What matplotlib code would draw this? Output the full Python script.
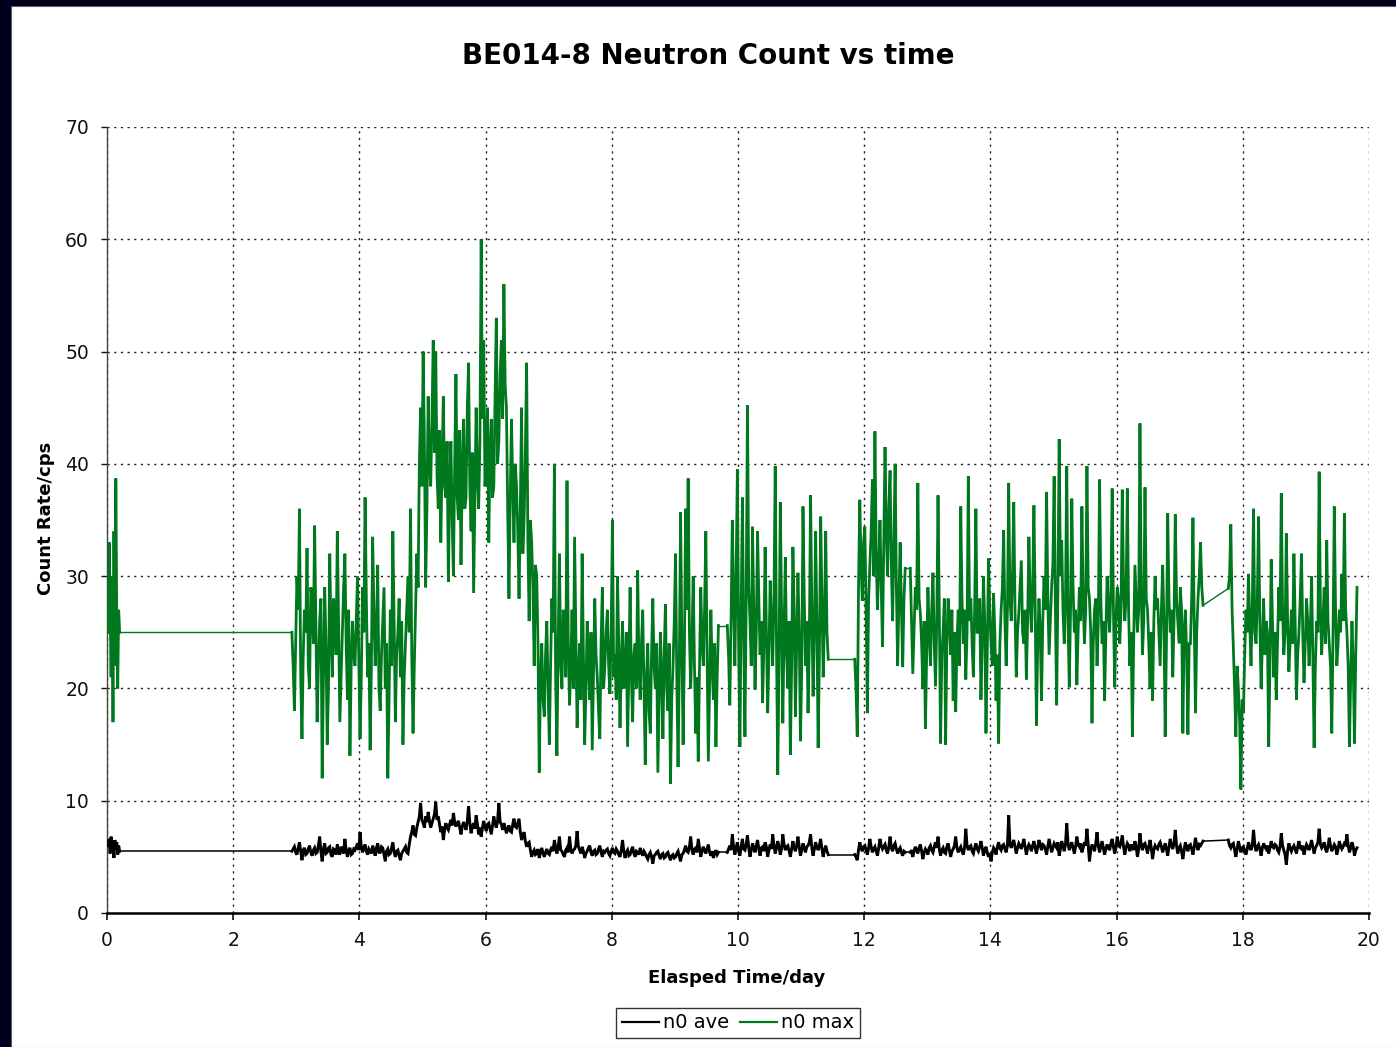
import numpy as np
import matplotlib
matplotlib.use("Agg")
import matplotlib.pyplot as plt
from matplotlib.patches import Rectangle

SEG_START = [0.02, 2.93, 9.83, 11.85, 12.73, 17.77]   # day
SEG_STEP = [0.015, 0.02, 0.02, 0.02, 0.02, 0.02]      # day

N0_MAX_1 = [25, 33, 27, 21, 30, 17, 34, 22, 38.7, 26, 20, 27, 25]
N0_MAX_2 = [
    25, 22, 18, 24, 30, 27, 36, 21, 15.5, 23, 27, 25, 32.5, 22, 20, 29, 28, 24, 34.5, 26, 17, 22, 26, 28, 12,
    21, 29, 24, 15, 20, 32, 25, 21, 28, 27, 23, 34, 26, 17, 21, 25, 29, 32, 24, 19, 27, 14, 22, 26, 23,
    22, 26, 30, 23, 15.5, 21, 29, 25, 37, 28, 21, 24, 14.5, 22, 33.5, 27, 22, 25, 31, 20, 18, 23, 26, 29, 20,
    24, 12, 19, 27, 22, 34, 26, 17, 23, 25, 28, 21, 26, 15, 21, 24, 27, 30, 25, 36, 23, 16, 22, 27, 32,
    29, 40, 45, 38, 50, 42, 29, 36, 46, 40, 38, 44, 51, 41, 50, 39, 36, 43, 33, 40, 46, 38, 37, 42, 29.5,
    38, 42, 35, 30, 40, 48, 37, 35, 43, 31, 39, 44, 36, 37, 45, 49, 38, 34, 41, 28.5, 37, 45, 39, 36, 42,
    60, 44, 51, 38, 40, 45, 33, 41, 44, 37, 38, 46, 53, 40, 42, 48, 51, 44, 56, 47, 45, 36, 28, 37, 44,
    38, 33, 40, 38, 34, 28, 36, 45, 32, 35, 41, 49, 33, 26, 35, 33, 29, 22, 31, 30, 24, 12.5, 21, 24, 19,
    17.5, 23, 26, 20, 15, 22, 28, 25, 40, 21, 14, 24, 32, 22, 20, 27, 25, 21, 38.5, 24, 18.5, 22, 27, 20, 33.5,
    25, 16.5, 21, 24, 19, 32, 23, 15, 20, 26, 22, 19, 25, 14.5, 21, 28, 23, 21, 18, 15.5, 24, 29, 20, 22, 25,
    27, 22, 19.5, 25, 35, 21, 23, 19, 30, 24, 16.5, 22, 26, 20, 21, 25, 14.8, 22, 29, 21, 17, 23, 24, 20, 30.5,
    22, 19, 24, 27, 20, 13.2, 21, 24, 18, 16, 23, 28, 22, 20, 24, 12.5, 19, 25, 21, 15.5, 23, 27.5, 20, 18, 24,
    11.5, 19, 22, 26, 32, 21, 13, 22, 35.7, 24, 15, 23, 36, 27, 38.7, 25, 20, 24, 30, 22,
    16, 21, 13.5, 22, 29, 24, 22, 27, 34, 23, 13.5, 20, 27, 22, 19, 24, 14.8, 21, 25.6]
N0_MAX_3 = [
    25.6, 23, 18.5, 26, 35, 28, 22, 30, 39.5, 24, 14.8, 27, 37, 25, 15.7, 28, 45.2, 29, 26, 22,
    34.4, 27, 19.9, 25, 34, 28, 23, 26, 18.7, 24, 32.6, 25, 17.8, 23, 29.6, 26, 22, 28, 39.8, 24,
    12.3, 22, 36.6, 27, 16.9, 25, 31.7, 23, 20, 26, 14.1, 22, 32.6, 27, 17.5, 24, 30.3, 25, 15.3, 22,
    36.2, 28, 22, 26, 17.8, 24, 37.2, 27, 19.3, 25, 34, 26, 14.7, 23, 35.3, 28, 21, 26, 34, 25, 22.6]
N0_MAX_4 = [
    22.6, 20, 15.7, 29, 36.8, 31, 27.8, 33, 34.4, 27, 17.8, 28, 31, 34, 38.6, 30, 42.9, 32, 27, 31,
    35, 29, 23.7, 33, 41.5, 34, 30, 36, 39.4, 31, 26, 33, 40, 29, 22, 28, 33, 27, 21.9, 28, 30.7]
N0_MAX_5 = [
    30.7, 26, 21.3, 25, 29, 27, 38.3, 28, 26.7, 24, 20, 26, 16.4, 23, 29, 25, 22, 27, 30.3, 24, 20.2, 26, 37.2, 27, 15.1,
    23, 25, 28, 15, 24, 28, 26, 23, 27, 18.9, 25, 17.9, 24, 27, 22, 36.2, 28, 24, 27, 20.8, 25, 38.9, 26, 28, 24,
    21, 27, 36, 25, 25, 28, 19, 24, 30, 26, 16, 23, 31.6, 27, 24, 22, 28.5, 25, 18.9, 23, 15.1, 24, 27, 29, 34.1,
    26, 22, 27, 38.3, 28, 26, 30, 36.6, 27, 21, 25, 26.7, 29, 31.4, 25, 24, 27, 20.8, 26, 33.5, 28, 25, 29, 36.3, 27,
    16.7, 24, 28, 25, 18.9, 26, 30, 27, 37.5, 28, 23, 26, 29, 31, 38.9, 27, 18.5, 29, 42.2, 30, 33.2, 27, 24, 28, 39.8,
    26, 20.1, 27, 36.9, 29, 25, 27, 20.3, 25, 29, 26, 36.2, 28, 24, 27, 39.8, 29, 28, 25, 16.9, 24, 27, 28, 22, 26,
    38.6, 28, 24, 26, 18.9, 25, 30, 27, 25, 29, 37.8, 27, 20.1, 26, 29, 28, 24, 27, 37.7, 29, 26, 28, 37.8, 27, 22,
    25, 15.7, 24, 31, 28, 25, 27, 43.6, 29, 23, 26, 37.9, 28, 27, 24, 20, 25, 18.9, 26, 30, 27, 28, 25, 22, 27,
    31, 26, 15.7, 24, 35.6, 28, 25, 27, 21, 26, 35.5, 28, 26, 24, 29, 27, 16,
    25, 27, 23, 15.9, 24, 24, 28, 35.2, 26, 17.8, 25, 28, 30, 33, 29, 27.4]
N0_MAX_6 = [
    28.9, 30, 34.6, 27, 23.7, 20, 15.7, 22, 20, 17, 11, 19, 17.8, 23, 27, 25, 30.2, 26, 22, 27, 36, 25, 24, 28, 35.3,
    26, 20, 24, 28, 23, 26, 25, 14.8, 22, 31.5, 26, 21, 25, 19, 24, 29, 26, 37.4, 27, 23, 25, 33.8, 26, 21.5, 24,
    27, 24, 32, 26, 19, 23, 25, 28, 32, 25, 20.5, 24, 28, 26, 22, 25, 30, 23, 14.7, 22, 26, 25, 39.3, 27, 23, 26,
    29, 24, 33.2, 26, 24, 22, 16, 25, 36.2, 27, 22, 24, 27, 25, 30.2, 26, 35.6, 27, 25, 22, 14.8, 21, 26, 22, 15.1, 23, 29]

N0_AVE_1 = [6.0, 6.6, 5.3, 6.8, 5.6, 6.2, 4.9, 6.5, 5.8, 6.3, 5.2, 6.0, 5.5]
N0_AVE_2 = [
    5.5, 5.7, 5.9, 5.4, 5.2, 5.8, 6.3, 5.5, 4.7, 5.6, 5.8, 5.2, 5.3, 5.7, 6.0, 5.4, 5.1, 5.6, 5.8, 5.3, 5.4, 6.0, 6.8, 5.5, 4.6,
    5.7, 6.2, 5.3, 5.4, 5.8, 5.9, 5.2, 5.0, 5.7, 5.6, 5.2, 6.1, 5.5, 5.2, 5.9, 5.7, 5.3, 6.6, 5.6, 5.0, 5.6, 5.8, 5.2, 5.3, 5.7,
    5.6, 5.9, 6.2, 5.6, 7.2, 5.9, 5.4, 5.8, 6.1, 5.5, 5.2, 5.7, 5.5, 5.3, 6.0, 5.6, 5.1, 5.8, 6.2, 5.4, 5.4, 5.9, 5.8, 5.2, 4.6,
    5.5, 5.7, 5.2, 5.3, 5.8, 6.3, 5.4, 5.0, 5.5, 5.6, 5.1, 4.7, 5.3, 5.5, 5.7, 5.9, 5.4, 5.3, 6.1, 6.8, 7.2, 7.8, 7.0, 6.9, 7.6,
    8.1, 8.6, 9.8, 8.3, 8.0, 7.6, 8.6, 8.1, 9.0, 8.2, 7.6, 8.0, 8.4, 8.8, 9.9, 8.3, 8.6, 7.9, 7.2, 7.7, 6.5, 7.4, 8.0, 7.6, 7.4,
    7.9, 8.3, 7.8, 8.9, 8.1, 7.7, 8.0, 8.2, 7.6, 7.0, 7.7, 8.1, 7.8, 7.4, 8.2, 9.5, 8.0, 7.1, 7.7, 8.0, 7.5, 8.7, 7.9, 7.0, 7.6,
    6.8, 7.6, 8.2, 7.7, 7.3, 7.9, 8.0, 7.5, 7.0, 7.8, 8.6, 8.0, 7.6, 8.2, 9.8, 8.1, 7.9, 7.4, 8.0, 7.6, 7.1, 7.5, 7.8, 7.3, 7.2,
    7.9, 8.4, 7.7, 7.6, 8.0, 8.4, 7.2, 6.5, 6.9, 7.2, 6.4, 5.9, 6.2, 6.3, 5.6, 5.0, 5.4, 5.6, 5.2, 5.3, 5.7, 4.9, 5.4, 5.8, 5.3,
    5.0, 5.4, 5.7, 5.3, 5.2, 5.6, 5.9, 5.5, 6.5, 5.8, 5.3, 5.9, 6.8, 5.6, 5.5, 5.2, 5.0, 5.6, 5.8, 5.4, 6.8, 5.7, 5.3, 5.6, 5.7,
    6.0, 7.3, 5.9, 5.6, 5.3, 5.9, 5.5, 4.9, 5.3, 5.5, 5.8, 6.0, 5.4, 5.1, 5.5, 5.6, 5.2, 5.3, 5.7, 6.0, 5.4, 5.0, 5.5, 5.4, 5.6,
    5.7, 5.3, 5.1, 5.5, 5.8, 5.4, 5.3, 5.7, 5.5, 5.2, 5.0, 5.6, 6.5, 5.5, 4.9, 5.4, 5.6, 5.1, 5.2, 5.6, 5.9, 5.3, 5.0, 5.5, 5.4,
    5.2, 5.8, 5.4, 5.1, 5.5, 5.3, 5.0, 4.8, 5.2, 5.4, 5.0, 4.4, 5.1, 5.2, 5.4, 5.5, 5.1, 4.8, 5.2, 5.3, 4.9, 5.0, 5.3, 5.4, 5.0,
    4.7, 5.1, 5.2, 4.9, 5.0, 5.3, 5.5, 5.0, 4.6, 5.2, 5.3, 5.6, 6.0, 5.5, 5.4, 5.9, 6.8, 5.6, 5.2, 5.7,
    5.8, 5.4, 6.6, 5.8, 5.0, 5.5, 5.9, 5.6, 5.3, 5.7, 6.1, 5.4, 5.1, 5.5, 4.9, 5.3, 5.6, 5.2, 5.4]
N0_AVE_3 = [
    5.4, 5.7, 6.0, 5.6, 7.0, 5.9, 5.2, 5.8, 6.3, 5.5, 5.1, 5.9, 6.6, 5.7, 5.6, 6.1, 6.9, 5.8, 5.0, 5.6,
    6.2, 5.8, 5.4, 6.0, 6.5, 5.7, 5.1, 5.8, 5.9, 5.5, 6.3, 5.9, 5.0, 5.6, 6.1, 5.7, 7.0, 6.0, 5.3, 5.8,
    6.4, 5.9, 5.2, 5.7, 7.0, 6.1, 5.6, 5.9, 6.0, 5.5, 5.0, 5.7, 6.4, 5.8, 5.5, 6.0, 6.8, 5.9, 5.1, 5.6,
    6.2, 5.8, 5.4, 5.9, 6.0, 6.3, 7.0, 5.8, 5.1, 5.7, 6.3, 5.9, 5.6, 6.0, 6.6, 5.7, 5.0, 5.6, 6.0, 5.5, 5.2]
N0_AVE_4 = [
    5.2, 5.0, 4.7, 5.6, 6.3, 5.8, 5.5, 5.9, 6.0, 5.6, 5.2, 5.8, 6.6, 5.9, 5.4, 5.7, 5.9, 5.5, 5.1, 5.8,
    6.6, 6.0, 5.7, 5.9, 6.1, 5.6, 5.3, 5.9, 6.8, 5.8, 5.5, 6.0, 6.2, 5.7, 5.3, 5.6, 5.8, 5.4, 5.1, 5.5, 5.4]
N0_AVE_5 = [
    5.4, 5.6, 5.0, 5.5, 5.9, 5.6, 5.3, 5.8, 6.1, 5.5, 4.8, 5.4, 5.7, 5.5, 5.2, 5.8, 6.0, 5.6, 5.4, 5.9, 6.3, 5.8, 6.8, 5.7, 5.1,
    5.6, 5.8, 5.4, 5.3, 5.9, 6.2, 5.6, 5.0, 5.5, 5.7, 6.0, 6.8, 5.8, 5.4, 5.7, 5.9, 5.5, 5.2, 5.8, 7.5, 6.0, 5.6, 5.9, 6.0, 5.5,
    5.3, 5.8, 6.2, 5.7, 5.5, 5.9, 6.4, 5.8, 5.1, 5.6, 5.9, 5.4, 5.0, 5.3, 4.6, 5.4, 5.8, 5.6, 5.2, 5.9, 6.3, 5.8, 5.6, 6.0, 6.1,
    5.7, 5.4, 6.0, 8.7, 6.1, 5.8, 6.2, 6.5, 5.9, 5.3, 5.8, 6.2, 6.0, 5.7, 6.1, 6.6, 5.9, 5.2, 5.8, 6.1, 5.9, 5.5, 6.0, 6.4, 5.8,
    5.3, 5.9, 6.5, 6.0, 5.6, 6.1, 6.0, 5.7, 5.2, 5.9, 6.6, 6.0, 5.4, 5.8, 6.2, 6.0, 5.8, 6.3, 5.1, 5.7, 6.4, 6.0, 5.5, 6.1, 8.0,
    6.2, 5.6, 6.0, 6.3, 5.8, 5.3, 5.9, 6.8, 6.1, 5.9, 6.2, 5.4, 5.8, 6.3, 6.0, 7.5, 6.1, 4.6, 5.6, 6.1, 5.8, 5.5, 6.2, 7.2, 6.0,
    5.4, 5.9, 6.4, 5.8, 5.2, 5.7, 6.1, 5.8, 5.6, 6.2, 6.6, 5.9, 5.3, 5.8, 6.8, 6.0, 5.9, 6.3, 6.9, 5.9, 5.2, 5.8, 6.2, 6.0, 5.5,
    6.1, 5.9, 5.6, 6.4, 5.9, 5.0, 5.7, 7.1, 6.0, 5.6, 6.1, 6.2, 5.8, 5.3, 5.9, 6.5, 5.8, 4.8, 5.6, 6.0, 5.8, 5.7, 6.1, 6.3, 5.9,
    5.4, 5.8, 6.2, 5.7, 5.1, 5.9, 6.6, 6.0, 5.7, 6.2, 7.4, 6.0, 5.3, 5.8, 6.0, 5.5, 4.8,
    5.6, 6.3, 5.9, 5.5, 6.0, 6.1, 5.7, 5.2, 5.9, 6.7, 6.0, 5.6, 6.1, 6.0, 6.2, 6.4]
N0_AVE_6 = [
    6.5, 6.0, 5.8, 6.1, 6.2, 5.6, 5.0, 5.7, 6.4, 5.9, 5.4, 5.8, 5.9, 5.5, 5.2, 5.7, 6.3, 5.9, 5.6, 6.0, 7.4, 6.1, 5.5, 5.9, 6.1,
    5.7, 5.1, 5.8, 6.2, 5.9, 5.7, 6.0, 5.3, 5.8, 6.4, 5.9, 5.8, 6.1, 6.0, 5.6, 5.4, 5.9, 7.1, 6.0, 5.6, 5.2, 4.3, 5.5, 6.2, 5.8,
    5.5, 5.8, 6.0, 5.7, 5.3, 5.9, 6.4, 5.8, 5.7, 6.0, 5.2, 5.7, 6.1, 5.9, 5.6, 6.0, 6.5, 5.9, 5.3, 5.8, 6.0, 6.3, 7.5, 6.1, 5.8,
    6.0, 6.3, 5.7, 5.4, 5.9, 6.7, 6.0, 5.5, 5.8, 6.1, 5.9, 5.2, 5.7, 6.4, 6.0, 5.7, 5.9, 6.2, 6.1, 7.0, 6.0, 5.4, 5.8, 6.3, 5.9,
    5.1, 5.6, 5.8]

X_TICKS = [0, 2, 4, 6, 8, 10, 12, 14, 16, 18, 20]
Y_TICKS = [0, 10, 20, 30, 40, 50, 60, 70]

GREEN = "#00781E"
FRAME = "#00001C"


def segments(segs):
    out = []
    for t0, dt, vals in zip(SEG_START, SEG_STEP, segs):
        out.append((t0 + dt * np.arange(len(vals)), np.asarray(vals, dtype=float)))
    return out


def draw(ax, segs, color, lw_data, lw_gap, label):
    # logged stretches drawn dense; logger gaps bridged by a plain thin line
    for i, (t, v) in enumerate(segs):
        ax.plot(t, v, color=color, lw=lw_data, zorder=3, solid_joinstyle="miter",
                label=label if i == 0 else None)
        if i + 1 < len(segs):
            tn, vn = segs[i + 1]
            ax.plot([t[-1], tn[0]], [v[-1], vn[0]], color=color, lw=lw_gap, zorder=3)


ave_segs = segments([N0_AVE_1, N0_AVE_2, N0_AVE_3, N0_AVE_4, N0_AVE_5, N0_AVE_6])
max_segs = segments([N0_MAX_1, N0_MAX_2, N0_MAX_3, N0_MAX_4, N0_MAX_5, N0_MAX_6])

plt.rcParams["font.family"] = "DejaVu Sans"

fig = plt.figure(figsize=(13.96, 10.47), dpi=100)
fig.patch.set_facecolor(FRAME)
# white slide area inside the dark frame
fig.patches.append(Rectangle((11 / 1396, 0), 1, 1 - 6 / 1047, transform=fig.transFigure,
                             fc="white", ec="#5a5a70", lw=0.8, zorder=-10))

ax = fig.add_axes([107 / 1396, 1 - 913 / 1047, 1262 / 1396, 786 / 1047])
ax.set_zorder(1)
ax.set_facecolor("white")

draw(ax, ave_segs, "black", 2.1, 1.1, "n0 ave")
draw(ax, max_segs, GREEN, 2.0, 1.0, "n0 max")

ax.set_xlim(0, 20)
ax.set_ylim(0, 70)
ax.set_xticks(X_TICKS)
ax.set_yticks(Y_TICKS)
ax.grid(True, color="#222222", lw=1.0, linestyle=(0, (1.6, 3.2)))
ax.set_axisbelow(True)

for s in ["top", "right"]:
    ax.spines[s].set_visible(False)
ax.spines["left"].set_color("#444444")
ax.spines["left"].set_linewidth(1.0)
ax.spines["bottom"].set_color("black")
ax.spines["bottom"].set_linewidth(1.8)

ax.tick_params(axis="x", length=5, width=1.2, pad=8, labelsize=13.5, colors="#111111")
ax.tick_params(axis="y", length=4, width=1.0, pad=9, labelsize=13.5, colors="#111111")

ax.set_xlabel("Elasped Time/day", fontsize=13, fontweight="bold")
ax.set_ylabel("Count Rate/cps", fontsize=13, fontweight="bold")
ax.xaxis.set_label_coords(0.4992, -0.071)
ax.yaxis.set_label_coords(-0.041, 0.5025)

fig.text(708 / 1396, 1 - 56 / 1047, "BE014-8 Neutron Count vs time", ha="center", va="center",
         fontsize=20, fontweight="bold", color="black")

leg = fig.legend(loc="center", bbox_to_anchor=(738 / 1396, 1 - 1023 / 1047), ncol=2,
                 fontsize=14, frameon=True, fancybox=False, edgecolor="black",
                 handlelength=1.9, handletextpad=0.2, columnspacing=0.6, borderpad=0.3)
leg.get_frame().set_linewidth(1.0)
for line in leg.get_lines():
    line.set_linewidth(1.6)

fig.savefig("out.png", dpi=100, facecolor=FRAME)
